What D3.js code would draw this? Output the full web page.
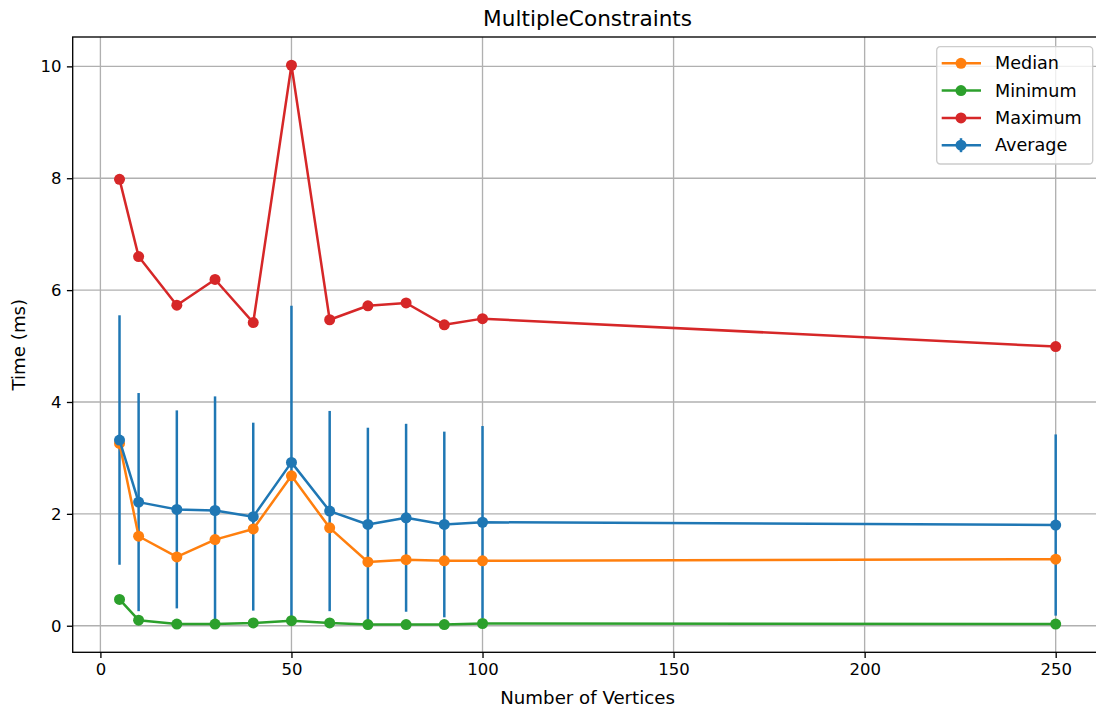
<!DOCTYPE html>
<html>
<head>
<meta charset="utf-8">
<script src="https://cdn.jsdelivr.net/npm/d3@7"></script>
<style>
    body { margin: 0; background: #fff; }
    svg { display: block; font-family: "DejaVu Sans", sans-serif; }
</style>
</head>
<body>
<div id="chart"></div>
<script>
// values
const vertices = [5, 10, 20, 30, 40, 50, 60, 70, 80, 90, 100, 250];
const medianMs = [3.26, 1.60, 1.23, 1.54, 1.73, 2.68, 1.75, 1.14, 1.18, 1.16, 1.16, 1.19];
const minimumMs = [0.47, 0.10, 0.03, 0.03, 0.05, 0.09, 0.05, 0.02, 0.02, 0.02, 0.04, 0.03];
const maximumMs = [7.98, 6.60, 5.73, 6.19, 5.42, 10.02, 5.47, 5.72, 5.77, 5.38, 5.49, 4.99];
const averageMs = [3.32, 2.21, 2.08, 2.06, 1.95, 2.92, 2.05, 1.81, 1.93, 1.81, 1.85, 1.80];
const averageStd = [2.23, 1.95, 1.77, 2.04, 1.68, 2.80, 1.79, 1.73, 1.68, 1.66, 1.72, 1.62];
const xTicks = [0, 50, 100, 150, 200, 250];
const yTicks = [0, 2, 4, 6, 8, 10];

const width = 1096, height = 711;
const margin = { left: 72.7, right: 1102.5, top: 37, bottom: 652.3 };
const lineWidth = 2.5, markerRadius = 5.5;
const tickFont = 16.5, legendFont = 17.6, labelFont = 18.2, titleFont = 21.6;

const x = d3.scaleLinear().domain([-7.25, 262.25]).range([margin.left, margin.right]);
const y = d3.scaleLinear().domain([-0.475, 10.525]).range([margin.bottom, margin.top]);

const svg = d3.select('#chart').append('svg').attr('width', width).attr('height', height);

// grid
const grid = svg.append('g').attr('stroke', '#b0b0b0').attr('stroke-width', 1.33);
grid.selectAll('.gx').data(xTicks).join('line')
    .attr('x1', d => x(d)).attr('x2', d => x(d)).attr('y1', margin.top).attr('y2', margin.bottom);
grid.selectAll('.gy').data(yTicks).join('line')
    .attr('x1', margin.left).attr('x2', margin.right).attr('y1', d => y(d)).attr('y2', d => y(d));

// axes
const xAxis = svg.append('g').attr('transform', `translate(0,${margin.bottom})`)
    .call(d3.axisBottom(x).tickValues(xTicks).tickSize(5.8).tickPadding(5.5).tickFormat(d3.format('d')));
const yAxis = svg.append('g').attr('transform', `translate(${margin.left},0)`)
    .call(d3.axisLeft(y).tickValues(yTicks).tickSize(5.8).tickPadding(5.5).tickFormat(d3.format('d')));
[xAxis, yAxis].forEach(a => {
    a.select('.domain').remove();
    a.selectAll('line').attr('stroke', '#000').attr('stroke-width', 1.33);
    a.selectAll('text').attr('font-size', tickFont).attr('fill', '#000').attr('font-family', '"DejaVu Sans", sans-serif');
});

// spines
svg.append('rect')
    .attr('x', margin.left).attr('y', margin.top)
    .attr('width', margin.right - margin.left).attr('height', margin.bottom - margin.top)
    .attr('fill', 'none').attr('stroke', '#000').attr('stroke-width', 1.33);

const plot = svg.append('g');
const rows = vertices.map((v, i) => ({ v, i }));

// error bars of the average
plot.selectAll('.err').data(rows).join('line')
    .attr('x1', d => x(d.v)).attr('x2', d => x(d.v))
    .attr('y1', d => y(averageMs[d.i] - averageStd[d.i]))
    .attr('y2', d => y(averageMs[d.i] + averageStd[d.i]))
    .attr('stroke', '#1f77b4').attr('stroke-width', lineWidth);

const series = [
    { name: 'Median', values: medianMs, color: '#ff7f0e' },
    { name: 'Minimum', values: minimumMs, color: '#2ca02c' },
    { name: 'Maximum', values: maximumMs, color: '#d62728' },
    { name: 'Average', values: averageMs, color: '#1f77b4' }
];

const line = d3.line().x(d => x(d[0])).y(d => y(d[1]));
series.forEach(s => {
    const pts = vertices.map((v, i) => [v, s.values[i]]);
    plot.append('path').datum(pts).attr('d', line)
        .attr('fill', 'none').attr('stroke', s.color).attr('stroke-width', lineWidth)
        .attr('stroke-linejoin', 'round');
    plot.append('g').selectAll('circle').data(pts).join('circle')
        .attr('cx', d => x(d[0])).attr('cy', d => y(d[1])).attr('r', markerRadius)
        .attr('fill', s.color);
});

// legend
const legend = svg.append('g').attr('transform', 'translate(936.7,46.7)');
legend.append('rect')
    .attr('width', 156).attr('height', 117.3).attr('rx', 3.5)
    .attr('fill', '#fff').attr('fill-opacity', 0.8)
    .attr('stroke', '#cccccc').attr('stroke-width', 1.33);
const items = legend.selectAll('.item').data(series).join('g')
    .attr('transform', (_, i) => `translate(0,${16.6 + i * 27.3})`);
items.append('line').attr('x1', 5).attr('x2', 44.3)
    .attr('stroke', d => d.color).attr('stroke-width', lineWidth);
items.filter(d => d.name === 'Average').append('line')
    .attr('x1', 24.3).attr('x2', 24.3).attr('y1', -7).attr('y2', 7)
    .attr('stroke', d => d.color).attr('stroke-width', lineWidth);
items.append('circle').attr('cx', 24.3).attr('r', markerRadius).attr('fill', d => d.color);
items.append('text').attr('x', 58.3).attr('dy', '0.35em')
    .attr('font-size', legendFont).attr('fill', '#000').text(d => d.name);

// title and labels
svg.append('text').attr('x', (margin.left + margin.right) / 2).attr('y', 18).attr('dy', '0.35em')
    .attr('text-anchor', 'middle').attr('font-size', titleFont).text('MultipleConstraints');
svg.append('text').attr('x', (margin.left + margin.right) / 2).attr('y', 698).attr('dy', '0.35em')
    .attr('text-anchor', 'middle').attr('font-size', labelFont).text('Number of Vertices');
svg.append('text').attr('transform', `translate(19,${(margin.top + margin.bottom) / 2}) rotate(-90)`)
    .attr('dy', '0.35em')
    .attr('text-anchor', 'middle').attr('font-size', labelFont).text('Time (ms)');
</script>
</body>
</html>
